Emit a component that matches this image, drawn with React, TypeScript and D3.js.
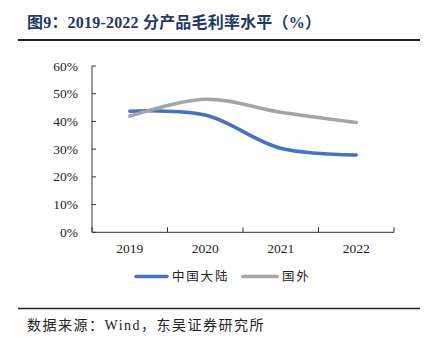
import React from "react";
import * as d3 from "d3";

const categories = ["2019", "2020", "2021", "2022"];
const chinaMainland = [43.7, 42.3, 30.3, 27.9];
const overseas = [41.9, 48.0, 43.3, 39.6];
const yTicks = [0, 10, 20, 30, 40, 50, 60];
const seriesNames = ["中国大陆", "国外"];
const seriesColors = ["#4472C4", "#A5A5A5"];

export default function App() {
  const W = 425, H = 347;
  const left = 92, right = 394, top = 66, bottom = 232.3;
  const x = d3.scaleBand<string>().domain(categories).range([left, right]);
  const y = d3.scaleLinear().domain([0, 60]).range([bottom, top]);
  const line = d3
    .line<number>()
    .x((_, i) => (x(categories[i]) as number) + x.bandwidth() / 2)
    .y((d) => y(d))
    .curve(d3.curveCatmullRom.alpha(0.5));
  const serif = "'Liberation Serif', 'Times New Roman', serif";
  const cjk = "'Liberation Serif', 'Noto Sans CJK SC', serif";
  const series = [chinaMainland, overseas];
  const legendX = [136, 243];
  const legendW = [31, 34];
  return (
    <svg width={W} height={H} style={{ position: "absolute", left: 0, top: 0 }}>
      <rect width={W} height={H} fill="#fff" />
      <text x={27} y={28} fontFamily={cjk} fontWeight="bold" fontSize={16} fill="#1F3864" letterSpacing={0.2}>
        图9：2019-2022 分产品毛利率水平（%）
      </text>
      <line x1={18} x2={420} y1={40} y2={40} stroke="#222" strokeWidth={2} />
      {/* y axis */}
      <line x1={left} x2={left} y1={top} y2={bottom} stroke="#333" strokeWidth={1} />
      {yTicks.map((t) => (
        <g key={t}>
          <line x1={left} x2={left + 4} y1={y(t)} y2={y(t)} stroke="#333" />
          <text x={78} y={y(t) + 4.5} textAnchor="end" fontFamily={serif} fontSize={13.5} fill="#222">
            {t}%
          </text>
        </g>
      ))}
      {/* x axis */}
      <line x1={left} x2={right} y1={bottom} y2={bottom} stroke="#333" strokeWidth={1} />
      {[...categories.map((c) => x(c) as number), right].map((px, i) => (
        <line key={i} x1={px} x2={px} y1={bottom} y2={bottom - 5} stroke="#333" />
      ))}
      {categories.map((c) => (
        <text key={c} x={(x(c) as number) + x.bandwidth() / 2} y={253} textAnchor="middle" fontFamily={serif} fontSize={13.5} fill="#222">
          {c}
        </text>
      ))}
      {series.map((s, i) => (
        <path key={i} d={line(s) || ""} fill="none" stroke={seriesColors[i]} strokeWidth={3.5} strokeLinecap="round" />
      ))}
      {/* legend */}
      {seriesNames.map((n, i) => (
        <g key={n}>
          <line x1={legendX[i]} x2={legendX[i] + legendW[i]} y1={276.5} y2={276.5} stroke={seriesColors[i]} strokeWidth={3.5} strokeLinecap="round" />
          <text x={legendX[i] + legendW[i] + 5} y={281} fontFamily={cjk} fontSize={12.5} fill="#222" letterSpacing={1.8}>
            {n}
          </text>
        </g>
      ))}
      <line x1={18} x2={420} y1={308.5} y2={308.5} stroke="#222" strokeWidth={1.5} />
      <text x={27} y={330} fontFamily={cjk} fontSize={14} fill="#222" letterSpacing={1.5}>
        数据来源：Wind，东吴证券研究所
      </text>
    </svg>
  );
}
